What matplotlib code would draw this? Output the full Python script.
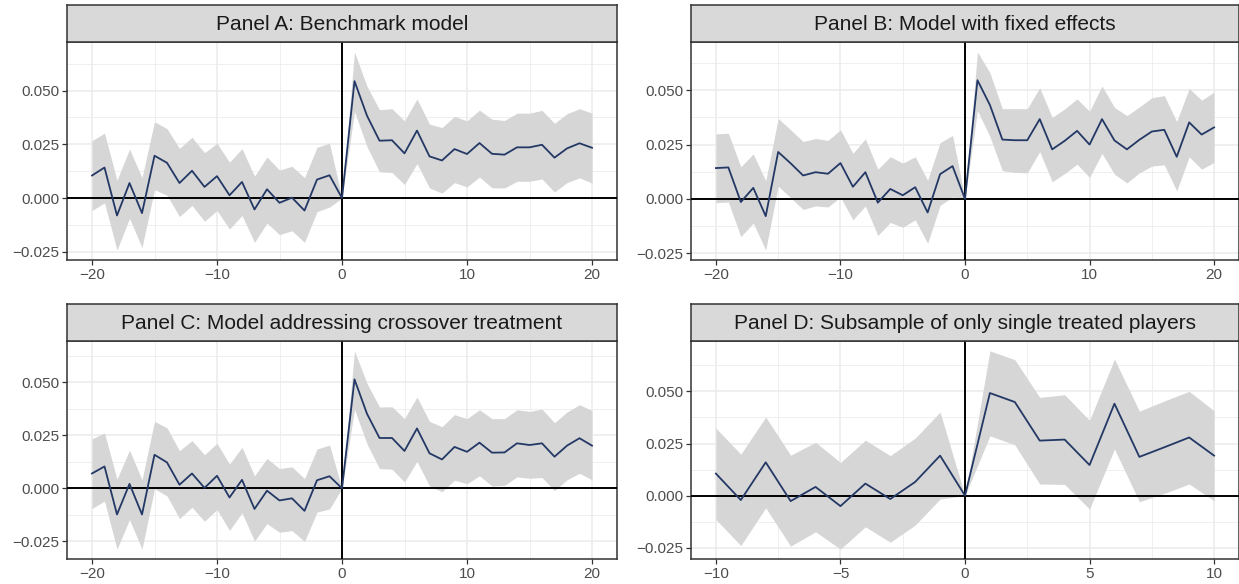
import numpy as np
import matplotlib
matplotlib.use('Agg')
from matplotlib import pyplot as plt
from matplotlib.ticker import FixedLocator, FuncFormatter

plt.rcParams['font.family'] = ['Liberation Sans', 'DejaVu Sans']

# event time
event_time_long = list(range(-20, 21))
event_time_short = list(range(-10, 11))

# Panel A: Benchmark model
est_a = [0.0105, 0.0142, -0.0081, 0.0070, -0.0070, 0.0197, 0.0164, 0.0070, 0.0127, 0.0052,
         0.0102, 0.0013, 0.0075, -0.0053, 0.0041, -0.0022, 0.0002, -0.0058, 0.0086, 0.0106,
         0.0,
         0.0544, 0.0383, 0.0267, 0.0269, 0.0208, 0.0314, 0.0194, 0.0175, 0.0228, 0.0205,
         0.0256, 0.0206, 0.0202, 0.0236, 0.0236, 0.0248, 0.0188, 0.0231, 0.0255, 0.0234]
hi_a = [0.0267, 0.0302, 0.0083, 0.0228, 0.0095, 0.0355, 0.0323, 0.0231, 0.0283, 0.0211,
        0.0255, 0.0167, 0.0230, 0.0102, 0.0191, 0.0130, 0.0148, 0.0095, 0.0236, 0.0255,
        0.0,
        0.0680, 0.0520, 0.0411, 0.0416, 0.0359, 0.0461, 0.0344, 0.0328, 0.0380, 0.0359,
        0.0409, 0.0367, 0.0361, 0.0395, 0.0395, 0.0408, 0.0348, 0.0392, 0.0416, 0.0395]
lo_a = [-0.0058, -0.0022, -0.0242, -0.0094, -0.0230, 0.0039, 0.0013, -0.0086, -0.0034, -0.0108,
        -0.0058, -0.0144, -0.0081, -0.0206, -0.0116, -0.0170, -0.0152, -0.0206, -0.0063, -0.0042,
        0.0,
        0.0403, 0.0239, 0.0122, 0.0119, 0.0063, 0.0161, 0.0047, 0.0023, 0.0072, 0.0052,
        0.0098, 0.0048, 0.0047, 0.0078, 0.0078, 0.0089, 0.0028, 0.0072, 0.0094, 0.0070]

# Panel B: Model with fixed effects
est_b = [0.0142, 0.0145, -0.0014, 0.0051, -0.0079, 0.0216, 0.0164, 0.0108, 0.0123, 0.0116,
         0.0165, 0.0056, 0.0123, -0.0017, 0.0046, 0.0017, 0.0054, -0.0062, 0.0114, 0.0151,
         0.0,
         0.0546, 0.0432, 0.0273, 0.0270, 0.0270, 0.0367, 0.0228, 0.0267, 0.0313, 0.0250,
         0.0367, 0.0269, 0.0228, 0.0272, 0.0310, 0.0318, 0.0194, 0.0352, 0.0296, 0.0329]
hi_b = [0.0299, 0.0302, 0.0148, 0.0207, 0.0083, 0.0370, 0.0318, 0.0264, 0.0278, 0.0269,
        0.0318, 0.0210, 0.0276, 0.0137, 0.0194, 0.0165, 0.0194, 0.0086, 0.0259, 0.0292,
        0.0,
        0.0676, 0.0580, 0.0415, 0.0415, 0.0415, 0.0511, 0.0375, 0.0414, 0.0460, 0.0403,
        0.0519, 0.0421, 0.0383, 0.0423, 0.0465, 0.0475, 0.0356, 0.0508, 0.0454, 0.0491]
lo_b = [-0.0017, -0.0014, -0.0173, -0.0111, -0.0235, 0.0059, 0.0006, -0.0048, -0.0032, -0.0037,
        0.0009, -0.0096, -0.0032, -0.0168, -0.0108, -0.0130, -0.0096, -0.0204, -0.0029, 0.0009,
        0.0,
        0.0407, 0.0287, 0.0130, 0.0122, 0.0120, 0.0218, 0.0079, 0.0117, 0.0160, 0.0099,
        0.0210, 0.0114, 0.0074, 0.0120, 0.0151, 0.0157, 0.0037, 0.0194, 0.0137, 0.0168]

# Panel C: Model addressing crossover treatment
est_c = [0.0070, 0.0103, -0.0123, 0.0021, -0.0123, 0.0158, 0.0122, 0.0017, 0.0070, 0.0002,
         0.0059, -0.0043, 0.0040, -0.0097, -0.0011, -0.0057, -0.0047, -0.0106, 0.0038, 0.0057,
         0.0,
         0.0513, 0.0351, 0.0237, 0.0237, 0.0176, 0.0282, 0.0165, 0.0136, 0.0195, 0.0172,
         0.0215, 0.0168, 0.0169, 0.0212, 0.0204, 0.0212, 0.0149, 0.0201, 0.0236, 0.0201]
hi_c = [0.0233, 0.0261, 0.0043, 0.0180, 0.0040, 0.0315, 0.0285, 0.0177, 0.0225, 0.0158,
        0.0212, 0.0114, 0.0193, 0.0059, 0.0141, 0.0093, 0.0101, 0.0046, 0.0185, 0.0204,
        0.0,
        0.0647, 0.0494, 0.0383, 0.0384, 0.0328, 0.0430, 0.0315, 0.0290, 0.0347, 0.0328,
        0.0370, 0.0328, 0.0328, 0.0370, 0.0362, 0.0373, 0.0309, 0.0359, 0.0394, 0.0366]
lo_c = [-0.0095, -0.0060, -0.0286, -0.0147, -0.0286, -0.0002, -0.0036, -0.0142, -0.0089, -0.0155,
        -0.0100, -0.0198, -0.0115, -0.0248, -0.0166, -0.0207, -0.0199, -0.0250, -0.0112, -0.0097,
        0.0,
        0.0372, 0.0209, 0.0093, 0.0090, 0.0030, 0.0127, 0.0011, -0.0016, 0.0038, 0.0022,
        0.0059, 0.0011, 0.0014, 0.0054, 0.0047, 0.0051, -0.0011, 0.0040, 0.0071, 0.0040]

# Panel D: Subsample of only single treated players
est_d = [0.0106, -0.0021, 0.0160, -0.0026, 0.0042, -0.0050, 0.0058, -0.0016, 0.0066, 0.0192,
         0.0,
         0.0492, 0.0449, 0.0264, 0.0269, 0.0147, 0.0441, 0.0186, 0.0232, 0.0279, 0.0192]
hi_d = [0.0324, 0.0199, 0.0377, 0.0194, 0.0256, 0.0159, 0.0266, 0.0192, 0.0276, 0.0401,
        0.0,
        0.0694, 0.0652, 0.0471, 0.0484, 0.0361, 0.0655, 0.0405, 0.0454, 0.0500, 0.0407]
lo_d = [-0.0114, -0.0239, -0.0058, -0.0242, -0.0173, -0.0256, -0.0149, -0.0223, -0.0141, -0.0016,
        0.0,
        0.0287, 0.0244, 0.0056, 0.0054, -0.0064, 0.0224, -0.0029, 0.0011, 0.0056, -0.0024]

titles = ["Panel A: Benchmark model",
          "Panel B: Model with fixed effects",
          "Panel C: Model addressing crossover treatment",
          "Panel D: Subsample of only single treated players"]

y_major = [-0.025, 0.0, 0.025, 0.050]

# layout in pixels (left, right, top, bottom)
fig_w, fig_h = 1239, 584
panel_boxes = [(67, 617, 42, 260), (691, 1239, 42, 260),
               (67, 617, 341, 559), (691, 1239, 341, 559)]
strip_h = 37

line_col = '#233865'
band_col = '#D6D6D6'
grid_col = '#EBEBEB'
frame_col = '#333333'


def fmt_y(v, pos):
    s = '%.3f' % v
    return s.replace('-', '\u2212')


def fmt_x(v, pos):
    return ('%d' % v).replace('-', '\u2212')


fig = plt.figure(figsize=(fig_w / 100, fig_h / 100), dpi=100)

panels = [(event_time_long, est_a, lo_a, hi_a, [-20, -10, 0, 10, 20]),
          (event_time_long, est_b, lo_b, hi_b, [-20, -10, 0, 10, 20]),
          (event_time_long, est_c, lo_c, hi_c, [-20, -10, 0, 10, 20]),
          (event_time_short, est_d, lo_d, hi_d, [-10, -5, 0, 5, 10])]

for (x, est, lo, hi, xticks), title, box in zip(panels, titles, panel_boxes):
    left, right, top, bottom = box
    ax = fig.add_axes([left / fig_w, 1 - bottom / fig_h,
                       (right - left) / fig_w, (bottom - top) / fig_h])

    ax.fill_between(x, lo, hi, color=band_col, lw=0, zorder=2)
    ax.plot(x, est, color=line_col, lw=1.3, zorder=4)
    ax.axhline(0, color='black', lw=1.4, zorder=3)
    ax.axvline(0, color='black', lw=1.4, zorder=3)

    # ggplot style 5% expansion
    xr = max(x) - min(x)
    ax.set_xlim(min(x) - 0.05 * xr, max(x) + 0.05 * xr)
    ymin, ymax = min(lo), max(hi)
    yr = ymax - ymin
    ax.set_ylim(ymin - 0.05 * yr, ymax + 0.05 * yr)

    ax.xaxis.set_major_locator(FixedLocator(xticks))
    step = xticks[1] - xticks[0]
    ax.xaxis.set_minor_locator(FixedLocator([t + step / 2 for t in xticks[:-1]]))
    ax.yaxis.set_major_locator(FixedLocator(y_major))
    ax.yaxis.set_minor_locator(FixedLocator([-0.0375, -0.0125, 0.0125, 0.0375, 0.0625]))
    ax.xaxis.set_major_formatter(FuncFormatter(fmt_x))
    ax.yaxis.set_major_formatter(FuncFormatter(fmt_y))

    ax.grid(True, which='major', color=grid_col, lw=1.1, zorder=0)
    ax.grid(True, which='minor', color=grid_col, lw=0.55, zorder=0)
    ax.set_axisbelow(True)

    ax.tick_params(which='major', length=3.5, width=0.9, color=frame_col,
                   labelsize=11, labelcolor='#4D4D4D', pad=2)
    ax.tick_params(which='minor', length=0)
    for sp in ax.spines.values():
        sp.set_color(frame_col)
        sp.set_linewidth(1.1)
    ax.set_facecolor('white')

    # facet strip
    sax = fig.add_axes([left / fig_w, 1 - top / fig_h,
                        (right - left) / fig_w, strip_h / fig_h])
    sax.set_facecolor('#D9D9D9')
    sax.set_xticks([])
    sax.set_yticks([])
    for sp in sax.spines.values():
        sp.set_color(frame_col)
        sp.set_linewidth(1.1)
    sax.text(0.5, 0.48, title, ha='center', va='center', fontsize=15,
             color='#1A1A1A', transform=sax.transAxes)

fig.savefig('out.png', dpi=100)
